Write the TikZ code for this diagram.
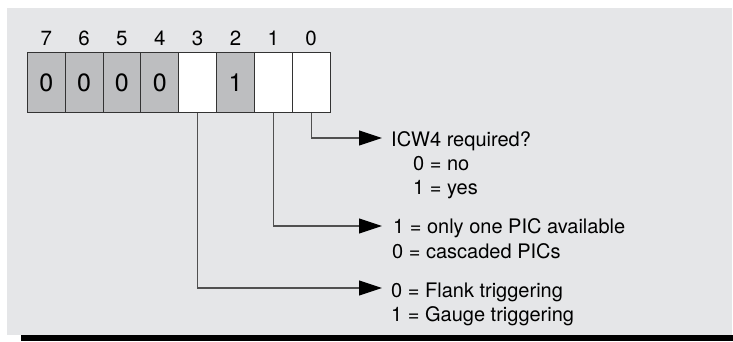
\documentclass[tikz,border=0pt]{standalone}
\usepackage{fontspec}
\setmainfont{TeX Gyre Heros}
\usetikzlibrary{arrows.meta}
\definecolor{bg}{HTML}{E5E6E8}
\definecolor{cellgray}{HTML}{BDBEC0}
\definecolor{cellline}{HTML}{333333}
\definecolor{linegray}{HTML}{505050}
\begin{document}
\begin{tikzpicture}[x=1pt,y=-1pt,
  cell/.style={draw=cellline, line width=1pt, minimum width=37.85pt, minimum height=60pt, inner sep=0pt, font=\fontsize{25}{30}\selectfont},
  bitlab/.style={anchor=base, inner sep=0pt, font=\fontsize{20.5}{24}\selectfont},
  txt/.style={anchor=base west, inner sep=0pt, font=\fontsize{20}{24}\selectfont},
  conn/.style={draw=linegray, line width=1.1pt, -{Triangle[length=23pt,width=15pt,fill=black,color=black]}}]
\useasboundingbox (0,0) rectangle (733,341);
\fill[bg] (7,8) rectangle (732,335);
\fill[black] (21,335) rectangle (733,341);
\foreach \b/\v/\f in {7/0/cellgray,6/0/cellgray,5/0/cellgray,4/0/cellgray,3//white,2/1/cellgray,1//white,0//white}{
  \pgfmathsetmacro{\cx}{27.3+18.925+(7-\b)*37.85}
  \node[cell, fill=\f] (c\b) at (\cx,82.7) {\v};
  \node[bitlab] (l\b) at (\cx,45) {\b};
}
\coordinate (a0) at (382,138);
\coordinate (a1) at (382,226);
\coordinate (a3) at (382,288);
\draw[conn] (c0.south) |- (a0);
\draw[conn] (c1.south) |- (a1);
\draw[conn] (c3.south) |- (a3);
\node[txt] (t0) at (391,146) {ICW4 required?};
\node[txt] (t0a) at (413,170) {0 = no};
\node[txt] (t0b) at (413,194) {1 = yes};
\node[txt] (t1) at (393,233) {1 = only one PIC available};
\node[txt] (t1a) at (392,258) {0 = cascaded PICs};
\node[txt] (t3) at (391,297) {0 = Flank triggering};
\node[txt] (t3a) at (391,321) {1 = Gauge triggering};
\end{tikzpicture}
\end{document}
